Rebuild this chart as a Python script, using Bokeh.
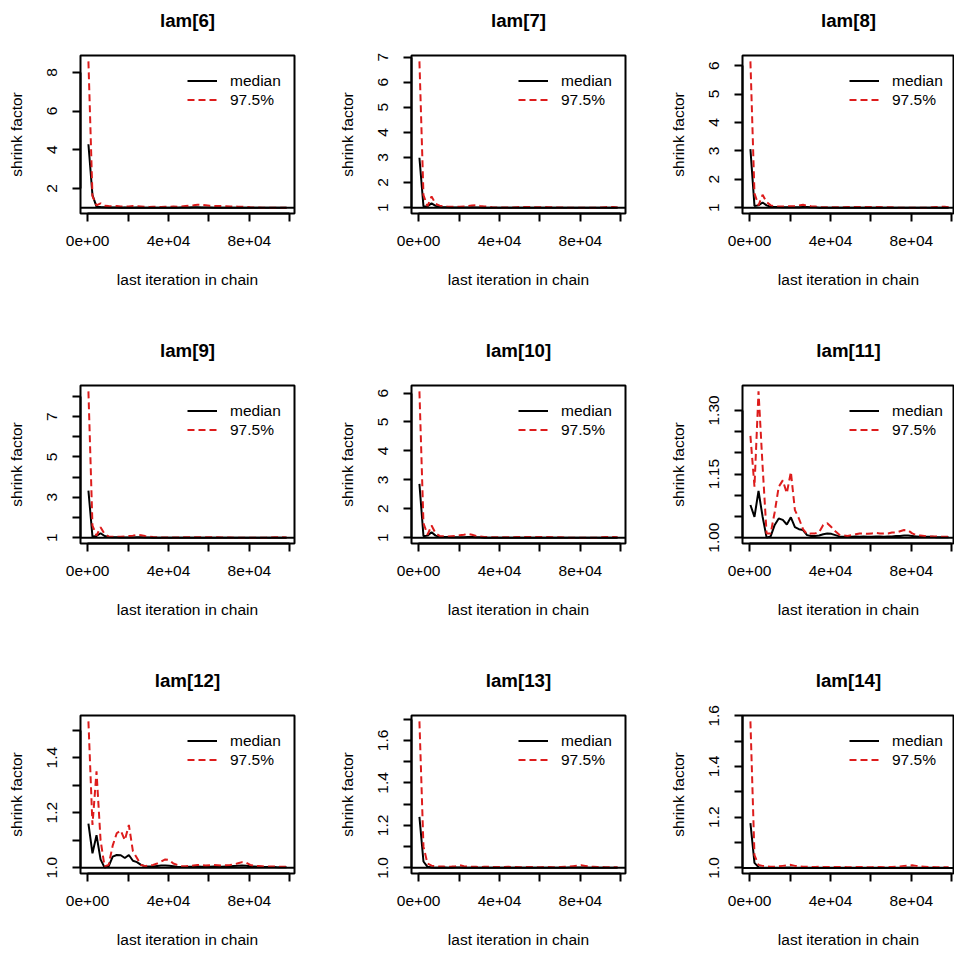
from bokeh.plotting import figure
from bokeh.layouts import column, row
from bokeh.models import (FixedTicker, Span, Legend, LegendItem, Title,
                          PrintfTickFormatter, Range1d)
from bokeh.embed import file_html
from bokeh.resources import INLINE

# ---------------------------------------------------------------- data
# last iteration of the chain at which each shrink factor was computed
last_iter = list(range(400, 100000, 2000))

titles = ["lam[6]", "lam[7]", "lam[8]",
          "lam[9]", "lam[10]", "lam[11]",
          "lam[12]", "lam[13]", "lam[14]"]

median_6 = [4.28, 1.65, 1.05, 1.03, 1.02, 1.01, 1.01, 1.01, 1.00, 1.01,
            1.00, 1.00, 1.01, 1.00, 1.00, 1.00, 1.00, 1.00, 1.00, 1.00,
            1.00, 1.00, 1.00, 1.01, 1.01, 1.01, 1.02, 1.02, 1.01, 1.01,
            1.01, 1.00, 1.00, 1.00, 1.00, 1.00, 1.00, 1.00, 1.00, 1.00,
            1.00, 1.00, 1.00, 1.00, 1.00, 1.00, 1.00, 1.00, 1.00, 1.00]
upper_6 = [8.57, 1.60, 1.12, 1.22, 1.10, 1.08, 1.07, 1.08, 1.06, 1.07,
           1.06, 1.08, 1.07, 1.06, 1.05, 1.04, 1.05, 1.04, 1.04, 1.05,
           1.05, 1.06, 1.05, 1.06, 1.08, 1.10, 1.12, 1.15, 1.14, 1.12,
           1.10, 1.09, 1.08, 1.08, 1.07, 1.06, 1.06, 1.05, 1.05, 1.04,
           1.02, 1.01, 1.01, 1.00, 1.00, 1.00, 1.00, 1.00, 1.00, 1.00]

median_7 = [2.99, 1.05, 1.06, 1.17, 1.07, 1.03, 1.02, 1.02, 1.01, 1.01,
            1.01, 1.01, 1.01, 1.02, 1.01, 1.01, 1.00, 1.00, 1.00, 1.00,
            1.00, 1.00, 1.00, 1.00, 1.00, 1.00, 1.00, 1.00, 1.00, 1.00,
            1.00, 1.00, 1.00, 1.00, 1.00, 1.00, 1.00, 1.00, 1.00, 1.00,
            1.00, 1.00, 1.00, 1.00, 1.00, 1.00, 1.00, 1.00, 1.00, 1.00]
upper_7 = [6.83, 1.50, 1.06, 1.45, 1.15, 1.08, 1.05, 1.04, 1.04, 1.04,
           1.04, 1.05, 1.06, 1.09, 1.10, 1.07, 1.05, 1.04, 1.02, 1.01,
           1.01, 1.01, 1.01, 1.01, 1.02, 1.03, 1.03, 1.03, 1.02, 1.02,
           1.02, 1.03, 1.02, 1.01, 1.01, 1.01, 1.00, 1.00, 1.00, 1.00,
           1.00, 1.00, 1.00, 1.00, 1.00, 1.01, 1.02, 1.03, 1.03, 1.01]

median_8 = [3.06, 1.06, 1.08, 1.18, 1.08, 1.03, 1.02, 1.02, 1.01, 1.01,
            1.01, 1.01, 1.01, 1.02, 1.02, 1.01, 1.01, 1.00, 1.00, 1.00,
            1.00, 1.00, 1.00, 1.00, 1.00, 1.00, 1.00, 1.00, 1.00, 1.00,
            1.00, 1.00, 1.00, 1.00, 1.00, 1.00, 1.00, 1.00, 1.00, 1.00,
            1.00, 1.00, 1.00, 1.00, 1.00, 1.00, 1.00, 1.00, 1.00, 1.00]
upper_8 = [6.15, 1.50, 1.08, 1.45, 1.20, 1.08, 1.05, 1.04, 1.04, 1.05,
           1.05, 1.06, 1.08, 1.10, 1.07, 1.05, 1.04, 1.02, 1.01, 1.01,
           1.01, 1.01, 1.01, 1.01, 1.02, 1.02, 1.02, 1.02, 1.02, 1.02,
           1.02, 1.02, 1.02, 1.01, 1.01, 1.01, 1.00, 1.00, 1.00, 1.00,
           1.00, 1.00, 1.00, 1.00, 1.00, 1.01, 1.02, 1.03, 1.03, 1.01]

median_9 = [3.33, 1.05, 1.08, 1.22, 1.08, 1.03, 1.02, 1.02, 1.01, 1.01,
            1.01, 1.01, 1.02, 1.02, 1.01, 1.01, 1.00, 1.00, 1.00, 1.00,
            1.00, 1.00, 1.00, 1.00, 1.00, 1.00, 1.00, 1.00, 1.00, 1.00,
            1.00, 1.00, 1.00, 1.00, 1.00, 1.00, 1.00, 1.00, 1.00, 1.00,
            1.00, 1.00, 1.00, 1.00, 1.00, 1.00, 1.00, 1.00, 1.00, 1.00]
upper_9 = [8.25, 1.60, 1.10, 1.52, 1.18, 1.06, 1.05, 1.04, 1.05, 1.06,
           1.08, 1.10, 1.14, 1.12, 1.08, 1.05, 1.03, 1.02, 1.01, 1.01,
           1.01, 1.01, 1.01, 1.01, 1.02, 1.02, 1.02, 1.02, 1.02, 1.02,
           1.02, 1.02, 1.02, 1.01, 1.01, 1.01, 1.00, 1.00, 1.00, 1.00,
           1.00, 1.00, 1.00, 1.00, 1.00, 1.01, 1.02, 1.02, 1.02, 1.01]

median_10 = [2.86, 1.05, 1.07, 1.19, 1.07, 1.03, 1.02, 1.02, 1.01, 1.01,
             1.01, 1.01, 1.02, 1.02, 1.01, 1.01, 1.00, 1.00, 1.00, 1.00,
             1.00, 1.00, 1.00, 1.00, 1.00, 1.00, 1.00, 1.00, 1.00, 1.00,
             1.00, 1.00, 1.00, 1.00, 1.00, 1.00, 1.00, 1.00, 1.00, 1.00,
             1.00, 1.00, 1.00, 1.00, 1.00, 1.00, 1.00, 1.00, 1.00, 1.00]
upper_10 = [6.06, 1.50, 1.10, 1.42, 1.15, 1.06, 1.05, 1.04, 1.05, 1.06,
            1.08, 1.10, 1.13, 1.10, 1.06, 1.04, 1.02, 1.02, 1.01, 1.01,
            1.01, 1.01, 1.01, 1.01, 1.02, 1.02, 1.02, 1.02, 1.02, 1.02,
            1.02, 1.02, 1.02, 1.01, 1.01, 1.01, 1.00, 1.00, 1.00, 1.00,
            1.00, 1.00, 1.00, 1.00, 1.00, 1.01, 1.02, 1.02, 1.02, 1.01]

median_11 = [1.077, 1.049, 1.110, 1.050, 1.000, 1.003, 1.030, 1.045, 1.042, 1.031,
             1.048, 1.025, 1.020, 1.018, 1.006, 1.004, 1.004, 1.005, 1.008, 1.010,
             1.009, 1.006, 1.003, 1.002, 1.002, 1.002, 1.003, 1.002, 1.003, 1.002,
             1.002, 1.003, 1.003, 1.002, 1.003, 1.003, 1.004, 1.004, 1.005, 1.005,
             1.004, 1.003, 1.002, 1.002, 1.002, 1.002, 1.001, 1.001, 1.001, 1.001]
upper_11 = [1.240, 1.120, 1.345, 1.170, 1.010, 1.010, 1.060, 1.120, 1.135, 1.105,
            1.155, 1.065, 1.045, 1.020, 1.008, 1.010, 1.010, 1.013, 1.030, 1.034,
            1.025, 1.015, 1.007, 1.005, 1.004, 1.006, 1.008, 1.010, 1.010, 1.009,
            1.010, 1.011, 1.010, 1.010, 1.010, 1.012, 1.012, 1.015, 1.018, 1.017,
            1.010, 1.006, 1.005, 1.004, 1.003, 1.003, 1.003, 1.002, 1.002, 1.002]

median_12 = [1.160, 1.052, 1.118, 1.030, 1.000, 1.005, 1.040, 1.046, 1.045, 1.035,
             1.046, 1.025, 1.020, 1.010, 1.005, 1.004, 1.004, 1.006, 1.008, 1.008,
             1.007, 1.005, 1.003, 1.002, 1.002, 1.003, 1.003, 1.004, 1.003, 1.003,
             1.003, 1.004, 1.004, 1.003, 1.004, 1.005, 1.006, 1.007, 1.008, 1.007,
             1.005, 1.004, 1.003, 1.002, 1.002, 1.002, 1.002, 1.001, 1.001, 1.001]
upper_12 = [1.532, 1.155, 1.350, 1.100, 1.004, 1.010, 1.080, 1.125, 1.135, 1.100,
            1.155, 1.060, 1.035, 1.010, 1.005, 1.008, 1.010, 1.015, 1.022, 1.030,
            1.028, 1.015, 1.010, 1.006, 1.005, 1.006, 1.008, 1.010, 1.009, 1.008,
            1.009, 1.010, 1.009, 1.008, 1.009, 1.010, 1.012, 1.016, 1.020, 1.018,
            1.010, 1.007, 1.006, 1.005, 1.004, 1.004, 1.004, 1.003, 1.003, 1.003]

median_13 = [1.240, 1.030, 1.005, 1.002, 1.001, 1.001, 1.002, 1.001, 1.001, 1.002,
             1.002, 1.001, 1.001, 1.001, 1.001, 1.001, 1.001, 1.001, 1.001, 1.001,
             1.001, 1.001, 1.001, 1.001, 1.001, 1.001, 1.001, 1.001, 1.001, 1.001,
             1.001, 1.001, 1.001, 1.001, 1.001, 1.001, 1.001, 1.002, 1.002, 1.002,
             1.002, 1.002, 1.001, 1.001, 1.001, 1.001, 1.001, 1.001, 1.001, 1.001]
upper_13 = [1.690, 1.100, 1.020, 1.010, 1.008, 1.006, 1.006, 1.005, 1.006, 1.008,
            1.012, 1.008, 1.006, 1.005, 1.005, 1.004, 1.005, 1.005, 1.004, 1.004,
            1.004, 1.004, 1.005, 1.004, 1.004, 1.003, 1.004, 1.004, 1.004, 1.003,
            1.003, 1.004, 1.004, 1.003, 1.003, 1.004, 1.005, 1.006, 1.008, 1.010,
            1.012, 1.009, 1.006, 1.005, 1.004, 1.004, 1.003, 1.003, 1.003, 1.003]

median_14 = [1.177, 1.020, 1.003, 1.001, 1.001, 1.001, 1.001, 1.001, 1.001, 1.002,
             1.002, 1.001, 1.001, 1.001, 1.001, 1.001, 1.001, 1.001, 1.001, 1.001,
             1.001, 1.001, 1.001, 1.001, 1.001, 1.001, 1.001, 1.001, 1.001, 1.001,
             1.001, 1.001, 1.001, 1.001, 1.001, 1.001, 1.001, 1.001, 1.002, 1.002,
             1.002, 1.001, 1.001, 1.001, 1.001, 1.001, 1.001, 1.001, 1.001, 1.001]
upper_14 = [1.578, 1.050, 1.012, 1.008, 1.006, 1.005, 1.005, 1.006, 1.008, 1.010,
            1.012, 1.008, 1.006, 1.005, 1.005, 1.004, 1.004, 1.005, 1.004, 1.004,
            1.004, 1.004, 1.004, 1.004, 1.003, 1.003, 1.004, 1.004, 1.003, 1.003,
            1.003, 1.004, 1.004, 1.003, 1.003, 1.004, 1.005, 1.006, 1.008, 1.009,
            1.010, 1.008, 1.006, 1.005, 1.004, 1.004, 1.003, 1.003, 1.003, 1.003]

medians = [median_6, median_7, median_8, median_9, median_10,
           median_11, median_12, median_13, median_14]
uppers = [upper_6, upper_7, upper_8, upper_9, upper_10,
          upper_11, upper_12, upper_13, upper_14]

# x axis ticks: labelled ones and the unlabelled ones in between
x_major = [0, 40000, 80000]
x_labels = ["0e+00", "4e+04", "8e+04"]
x_minor = [20000, 60000, 100000]

# y axis ticks per panel: labelled, unlabelled, decimals shown
y_major = [[2, 4, 6, 8], [1, 2, 3, 4, 5, 6, 7], [1, 2, 3, 4, 5, 6],
           [1, 3, 5, 7], [1, 2, 3, 4, 5, 6], [1.00, 1.15, 1.30],
           [1.0, 1.2, 1.4], [1.0, 1.2, 1.4, 1.6], [1.0, 1.2, 1.4, 1.6]]
y_minor = [[], [], [], [2, 4, 6, 8], [], [1.05, 1.10, 1.20, 1.25],
           [1.1, 1.3, 1.5], [1.1, 1.3, 1.5, 1.7], [1.1, 1.3, 1.5]]
y_decimals = [0, 0, 0, 0, 0, 2, 1, 1, 1]

legend_labels = ["median", "97.5%"]
x_title = "last iteration in chain"
y_title = "shrink factor"

# ---------------------------------------------------------------- style
FONT = "Liberation Sans"
RED = "#DD1C1C"
WIN_W, WIN_H = 954, 953
CELL_W, CELL_H = 331, 330
LEFT, TOP = 80, 55
FRAME_W, FRAME_H = 214, 158


def padded(lo, hi, frac=0.04):
    d = (hi - lo) * frac
    return lo - d, hi + d


def panel(k):
    r, c = divmod(k, 3)
    width = min(CELL_W, WIN_W - c * CELL_W)
    height = min(CELL_H, WIN_H - r * CELL_H)
    fw = min(FRAME_W, width - LEFT)
    fh = FRAME_H

    x0, x1 = padded(min(last_iter), max(last_iter))
    x1 = x0 + (x1 - x0) * fw / FRAME_W
    lo = min(min(medians[k]), min(uppers[k]))
    hi = max(max(medians[k]), max(uppers[k]))
    y0, y1 = padded(lo, hi)

    p = figure(width=width, height=height, output_backend="svg",
               toolbar_location=None, title=None,
               x_range=Range1d(x0, x1), y_range=Range1d(y0, y1),
               min_border_left=LEFT, min_border_top=TOP,
               min_border_right=width - LEFT - fw,
               min_border_bottom=height - TOP - fh,
               background_fill_color="white", border_fill_color="white")
    p.grid.visible = False
    p.outline_line_color = "black"
    p.outline_line_width = 2

    # empty gap between the box and the panel title, then the title itself
    p.add_layout(Title(text=" ", text_font_size="1px", standoff=22), "above")
    p.add_layout(Title(text=titles[k], align="center", standoff=0,
                       text_font=FONT, text_font_size="18.7px",
                       text_font_style="bold", text_color="black"), "above")

    # reference line at a shrink factor of 1
    p.add_layout(Span(location=1, dimension="width",
                      line_color="black", line_width=2))

    med = p.line(last_iter, medians[k], line_color="black", line_width=2)
    upr = p.line(last_iter, uppers[k], line_color=RED, line_width=2,
                 line_dash="7 4")

    for ax in (p.xaxis[0], p.yaxis[0]):
        ax.axis_line_width = 2
        ax.major_tick_line_width = 2
        ax.minor_tick_line_width = 2
        ax.major_tick_in = 0
        ax.major_tick_out = 8
        ax.minor_tick_in = 0
        ax.minor_tick_out = 8
        ax.major_label_text_font = FONT
        ax.major_label_text_font_size = "15.5px"
        ax.major_label_text_color = "black"
        ax.axis_label_text_font = FONT
        ax.axis_label_text_font_size = "15.5px"
        ax.axis_label_text_font_style = "normal"
        ax.axis_label_text_color = "black"

    xa = p.xaxis[0]
    xa.ticker = FixedTicker(ticks=x_major, minor_ticks=x_minor)
    xa.major_label_overrides = dict(zip(x_major, x_labels))
    xa.bounds = (min(x_major + x_minor), max(x_major + x_minor))
    xa.axis_label = x_title
    xa.major_label_standoff = 14
    xa.axis_label_standoff = 22

    ya = p.yaxis[0]
    ya.ticker = FixedTicker(ticks=y_major[k], minor_ticks=y_minor[k])
    ya.formatter = PrintfTickFormatter(format="%%.%df" % y_decimals[k])
    ya.bounds = (min(y_major[k] + y_minor[k]), max(y_major[k] + y_minor[k]))
    ya.major_label_orientation = "vertical"
    ya.axis_label = y_title
    ya.major_label_standoff = 15
    ya.axis_label_standoff = 20

    legend = Legend(items=[LegendItem(label=legend_labels[0], renderers=[med]),
                           LegendItem(label=legend_labels[1], renderers=[upr])],
                    location=(107, 104), border_line_color=None,
                    background_fill_alpha=0, padding=0, spacing=0, margin=0,
                    label_standoff=13, glyph_width=30, glyph_height=19,
                    label_height=19, label_text_font=FONT,
                    label_text_font_size="15.5px", label_text_color="black")
    p.add_layout(legend)
    return p


figs = [panel(k) for k in range(9)]
layout = column(row(*figs[0:3]), row(*figs[3:6]), row(*figs[6:9]))

open("out.html", "w").write(file_html(layout, INLINE))
